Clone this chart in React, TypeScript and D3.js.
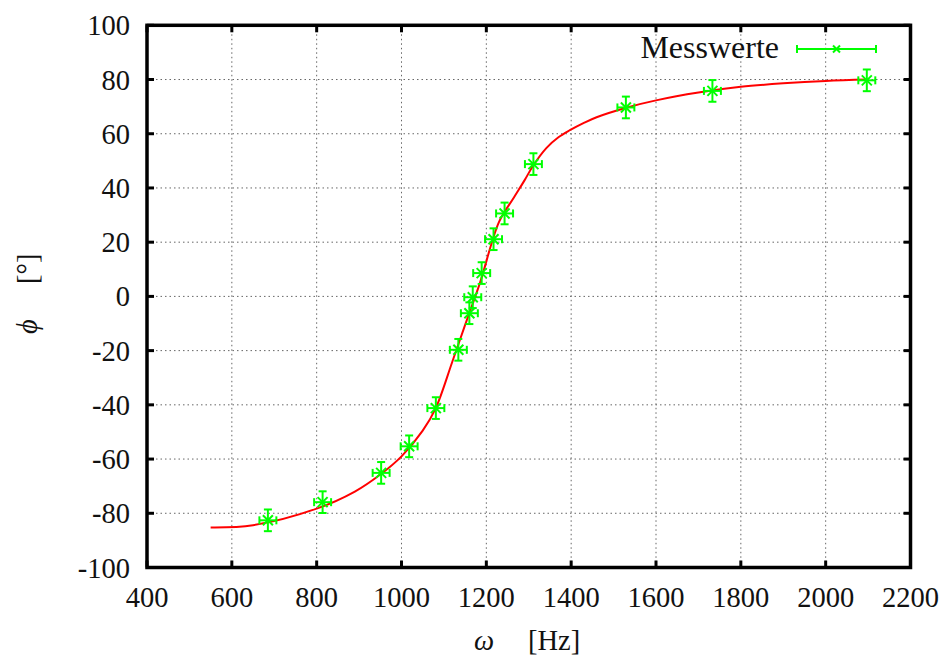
import React from "react";
import * as d3 from "d3";

// Measured data (omega in Hz, phi in degrees)
const omega = [685, 814, 952, 1018, 1081, 1134, 1160, 1168, 1189, 1217, 1243, 1311, 1529, 1733, 2097];
const phi = [-82.6, -75.9, -65.1, -55.3, -41.2, -19.7, -6.2, -0.3, 8.6, 21.1, 30.6, 48.8, 69.7, 75.8, 79.7];
const omegaErr = [20, 20, 20, 20, 20, 20, 20, 20, 20, 20, 20, 20, 20, 20, 20];
const phiErr = [4, 4, 4, 4, 4, 4, 4, 4, 4, 4, 4, 4, 4, 4, 4];

// Fit curve
const fitOmega = [550, 650, 800, 890, 950, 1000, 1050, 1080, 1120, 1150, 1185, 1230, 1265, 1290, 1311, 1342, 1370, 1397, 1430, 1460, 1530, 1600, 1700, 1800, 1900, 2000, 2100];
const fitPhi = [-85.2, -84.4, -78.3, -72, -65.7, -59, -49.5, -41.5, -24, -10.5, 5, 27.5, 36.5, 42.8, 48.4, 54.8, 58.7, 61.3, 64, 66.1, 69.6, 72.3, 75.2, 77.3, 78.6, 79.5, 80];

const xTicks = [400, 600, 800, 1000, 1200, 1400, 1600, 1800, 2000, 2200];
const yTicks = [-100, -80, -60, -40, -20, 0, 20, 40, 60, 80, 100];

const legendLabel = "Messwerte";

const W = 949;
const H = 658;
const L = 147;
const R = 910.5;
const T = 25.3;
const B = 567.5;

const FONT = "Liberation Serif, DejaVu Serif, serif";
const GREEN = "#00ff00";
const txt: React.CSSProperties = { fontFamily: FONT, fontSize: "28.5px" };
const big: React.CSSProperties = { fontFamily: FONT, fontSize: "32px" };

export default function App() {
  const x = d3.scaleLinear().domain([400, 2200]).range([L, R]);
  const y = d3.scaleLinear().domain([-100, 100]).range([B, T]);

  const fitLine = d3
    .line<number>()
    .x((_, i) => x(fitOmega[i]))
    .y((d) => y(d))
    .curve(d3.curveCatmullRom.alpha(0.5))(fitPhi) as string;

  const cap = 4;
  const mk = 5;
  const tickLen = 7;

  const errorBar = (cx: number, cy: number, hx: number, hy: number, key: string) => (
    <g key={key} stroke={GREEN} strokeWidth={2} fill="none">
      <line x1={cx - hx} y1={cy} x2={cx + hx} y2={cy} />
      <line x1={cx - hx} y1={cy - cap} x2={cx - hx} y2={cy + cap} />
      <line x1={cx + hx} y1={cy - cap} x2={cx + hx} y2={cy + cap} />
      <line x1={cx} y1={cy - hy} x2={cx} y2={cy + hy} />
      <line x1={cx - cap} y1={cy - hy} x2={cx + cap} y2={cy - hy} />
      <line x1={cx - cap} y1={cy + hy} x2={cx + cap} y2={cy + hy} />
      <line x1={cx - mk} y1={cy - mk} x2={cx + mk} y2={cy + mk} />
      <line x1={cx - mk} y1={cy + mk} x2={cx + mk} y2={cy - mk} />
    </g>
  );

  const legY = 49;
  const legX1 = 797;
  const legX2 = 876;
  const legMid = (legX1 + legX2) / 2;

  return (
    <svg
      width={W}
      height={H}
      style={{ position: "absolute", left: 0, top: 0, background: "#fff", fontFamily: FONT }}
    >
      <rect x={0} y={0} width={W} height={H} fill="#fff" />
      {/* grid */}
      <g stroke="#666" strokeWidth={1} strokeDasharray="1.5,3">
        {xTicks.slice(1, -1).map((t) => (
          <line key={"gx" + t} x1={x(t)} x2={x(t)} y1={T} y2={B} />
        ))}
        {yTicks.slice(1, -1).map((t) => (
          <line key={"gy" + t} x1={L} x2={R} y1={y(t)} y2={y(t)} />
        ))}
      </g>
      {/* ticks */}
      <g stroke="#000" strokeWidth={3}>
        {xTicks.map((t) => (
          <g key={"tx" + t}>
            <line x1={x(t)} x2={x(t)} y1={B} y2={B - tickLen} />
            <line x1={x(t)} x2={x(t)} y1={T} y2={T + tickLen} />
          </g>
        ))}
        {yTicks.map((t) => (
          <g key={"ty" + t}>
            <line x1={L} x2={L + tickLen} y1={y(t)} y2={y(t)} />
            <line x1={R} x2={R - tickLen} y1={y(t)} y2={y(t)} />
          </g>
        ))}
      </g>
      {/* fit curve */}
      <path d={fitLine} fill="none" stroke="#ff0000" strokeWidth={2} />
      {/* data */}
      {omega.map((o, i) => {
        const cx = x(o);
        const cy = y(phi[i]);
        const hx = x(o + omegaErr[i]) - cx;
        const hy = cy - y(phi[i] + phiErr[i]);
        return errorBar(cx, cy, hx, hy, "p" + i);
      })}
      {/* frame */}
      <rect x={L} y={T} width={R - L} height={B - T} fill="none" stroke="#000" strokeWidth={3.5} />
      {/* tick labels */}
      <g fill="#111">
        {xTicks.map((t) => (
          <text key={"lx" + t} x={x(t)} y={607} textAnchor="middle" style={txt}>
            {t}
          </text>
        ))}
        {yTicks.map((t) => (
          <text key={"ly" + t} x={130} y={y(t) + 10} textAnchor="end" style={txt}>
            {t}
          </text>
        ))}
      </g>
      {/* axis labels */}
      <text y={650} fill="#111" style={txt}>
        <tspan x={474} fontStyle="italic">ω</tspan>
        <tspan x={528}>[Hz]</tspan>
      </text>
      <text transform="translate(37,0) rotate(-90)" fill="#111" style={txt}>
        <tspan x={-334} fontStyle="italic">ϕ</tspan>
        <tspan x={-284}>[°]</tspan>
      </text>
      {/* legend */}
      <text x={779} y={58} fill="#111" textAnchor="end" style={big}>
        {legendLabel}
      </text>
      <g stroke={GREEN} strokeWidth={2}>
        <line x1={legX1} x2={legX2} y1={legY} y2={legY} />
        <line x1={legX1} x2={legX1} y1={legY - cap} y2={legY + cap} />
        <line x1={legX2} x2={legX2} y1={legY - cap} y2={legY + cap} />
        <line x1={legMid - 3.5} y1={legY - 3.5} x2={legMid + 3.5} y2={legY + 3.5} />
        <line x1={legMid - 3.5} y1={legY + 3.5} x2={legMid + 3.5} y2={legY - 3.5} />
      </g>
    </svg>
  );
}
